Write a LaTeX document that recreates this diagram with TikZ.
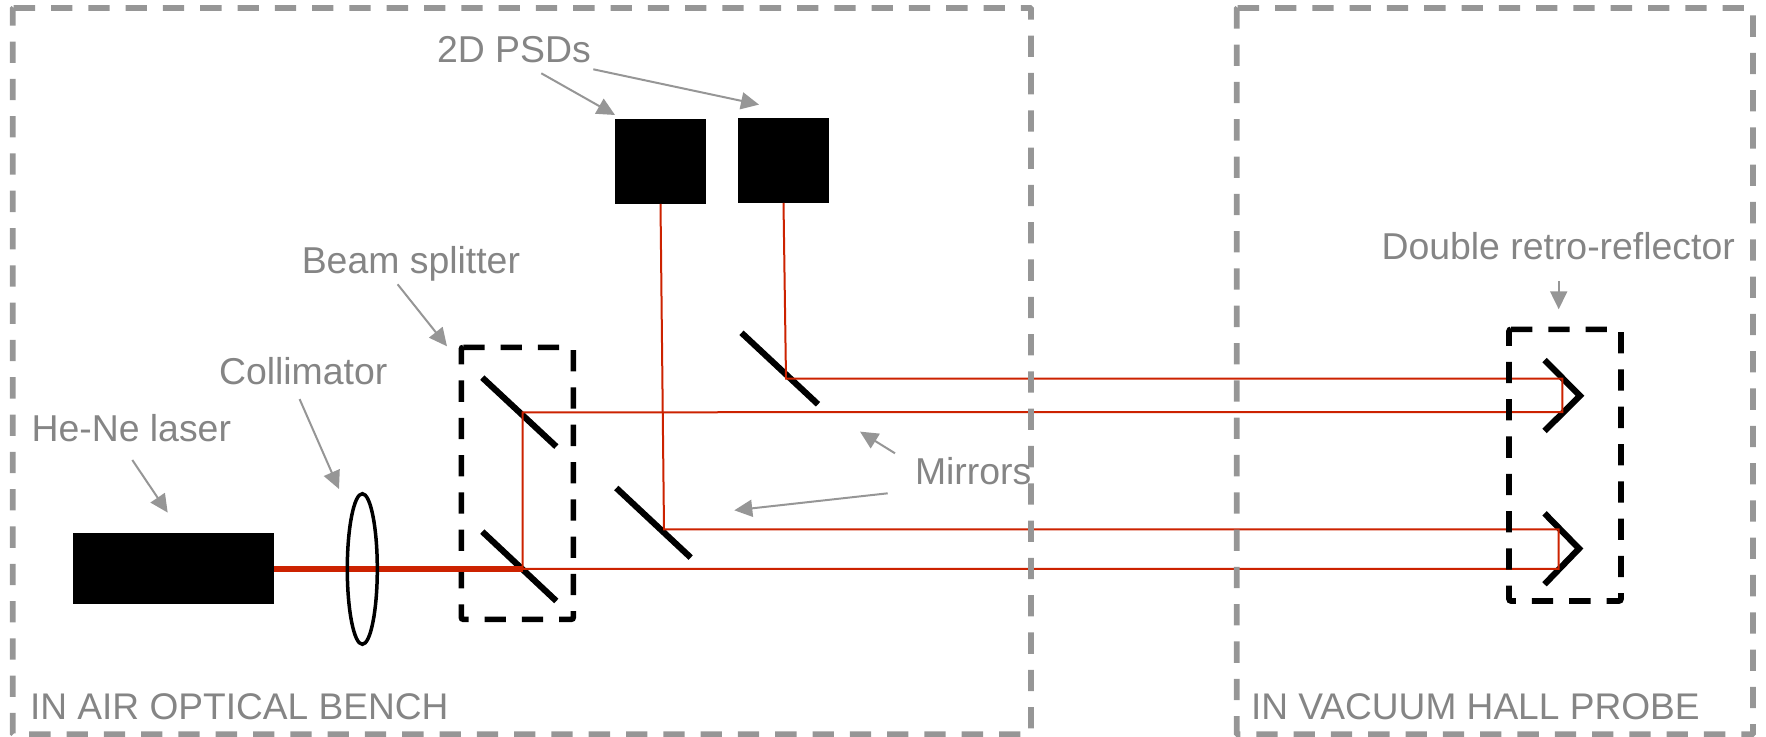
\documentclass[tikz,border=0pt]{standalone}
\usepackage{fontspec}
\setmainfont{Liberation Sans}
\usetikzlibrary{arrows.meta,shapes.geometric}
\definecolor{boxgray}{HTML}{969696}
\definecolor{textgray}{HTML}{858585}
\definecolor{beamred}{HTML}{CC2200}
\tikzset{
  graybox/.style={draw=boxgray,line width=5.7pt,dash pattern=on 21.3pt off 16pt,rounded corners=1pt},
  blackbox/.style={draw=black,line width=5.6pt,dash pattern=on 21.3pt off 16pt,rounded corners=2pt},
  beam/.style={draw=beamred,line width=2pt,line join=miter},
  thickbeam/.style={draw=beamred,line width=6.5pt},
  mirror/.style={draw=black,line width=6.2pt,line join=miter},
  callout/.style={draw=boxgray,line width=2pt,-{Triangle[length=18pt,width=17pt]}},
  lbl/.style={anchor=base west,inner sep=0pt,outer sep=0pt,text=textgray,font=\fontsize{37.4pt}{40pt}\selectfont},
  caps/.style={lbl,font=\fontsize{37.1pt}{40pt}\selectfont},
  block/.style={fill=black,inner sep=0pt,outer sep=0pt},
}
\begin{document}
\begin{tikzpicture}[x=1pt,y=-1pt]
\useasboundingbox (0,0.7) rectangle (1766,736.7);
% splitter box goes under the thick beam
\draw[blackbox] (461.3,348) -- (573.3,348) -- (573.3,620) -- (461.3,620) -- cycle;
% blocks
\node[block,minimum width=201pt,minimum height=70.7pt] (laser) at (173.5,569.3) {};
\node[block,minimum width=91pt,minimum height=84.7pt] (psda) at (660.5,162.3) {};
\node[block,minimum width=91pt,minimum height=84.7pt] (psdb) at (783.5,161.3) {};
% beam points
\coordinate (bsl) at (522.7,569.5);
\coordinate (bsu) at (522.7,413);
\coordinate (ma) at (664,530);
\coordinate (mb) at (786,379.4);
\coordinate (rua) at (1562.3,379.4);
\coordinate (rub) at (1562.3,412.7);
\coordinate (rla) at (1558.7,530);
\coordinate (rlb) at (1558.7,569.5);
% mirrors
\draw[mirror] (482.3,378.3) -- (556.3,447.3);
\draw[mirror] (482.3,532.3) -- (556.3,601.7);
\draw[mirror] (616.3,488.7) -- (690.7,558.3);
\draw[mirror] (741.5,333.5) -- (818,405);
\draw[mirror] (1544.5,360.7) -- (1580,396.5) -- (1544.5,431.7);
\draw[mirror] (1544.5,514) -- (1579,549.3) -- (1544.5,585);
% beams
\draw[thickbeam] (laser.east |- bsl) -- (bsl);
\draw[beam] (bsl) -- (rlb) -- (rla) -- (ma) -- (psda.south);
\draw[beam] (bsl) -- (bsu) -- (rub) -- (rua) -- (mb) -- (psdb.south);
% lens
\node[ellipse,draw=black,fill=none,line width=3.5pt,minimum width=30pt,minimum height=150.6pt,inner sep=0pt] (lens) at (362.3,569.7) {};
% outer boxes and retro box
\draw[blackbox] (1509,330) -- (1621,330) -- (1621,601.7) -- (1509,601.7) -- cycle;
\draw[graybox] (12.7,8.7) -- (1031,8.7) -- (1031,735) -- (12.7,735) -- cycle;
\draw[graybox] (1236.7,8.7) -- (1753,8.7) -- (1753,735) -- (1236.7,735) -- cycle;
% labels
\node[lbl] (lhene) at (31.5,442) {He-Ne laser};
\node[lbl] (lcoll) at (219,385) {Collimator};
\node[lbl] (lbs) at (301.8,274) {Beam splitter};
\node[lbl] (lpsd) at (437,63.3) {2D PSDs};
\node[lbl] (lmir) at (915,485) {Mirrors};
\node[lbl] (lretro) at (1381.5,260) {Double retro-reflector};
\node[caps] (lair) at (30,720) {IN AIR OPTICAL BENCH};
\node[caps] (lvac) at (1251,720) {IN VACUUM HALL PROBE};
% callouts
\coordinate (t1) at (132.3,460.7); \coordinate (h1) at (167.7,513.3);
\coordinate (t2) at (299.6,399.8); \coordinate (h2) at (339,489.7);
\coordinate (t3) at (397.6,285); \coordinate (h3) at (447,347);
\coordinate (t4) at (541.3,74); \coordinate (h4) at (615,115.7);
\coordinate (t5) at (593.3,70); \coordinate (h5) at (759,105.3);
\coordinate (t6) at (895,454); \coordinate (h6) at (860,432.3);
\coordinate (t7) at (887.7,494); \coordinate (h7) at (734.3,511);
\coordinate (t8) at (1558.7,282); \coordinate (h8) at (1558.7,310);
\draw[callout] (t1) -- (h1);
\draw[callout] (t2) -- (h2);
\draw[callout] (t3) -- (h3);
\draw[callout] (t4) -- (h4);
\draw[callout] (t5) -- (h5);
\draw[callout] (t6) -- (h6);
\draw[callout] (t7) -- (h7);
\draw[callout] (t8) -- (h8);
\end{tikzpicture}
\end{document}
